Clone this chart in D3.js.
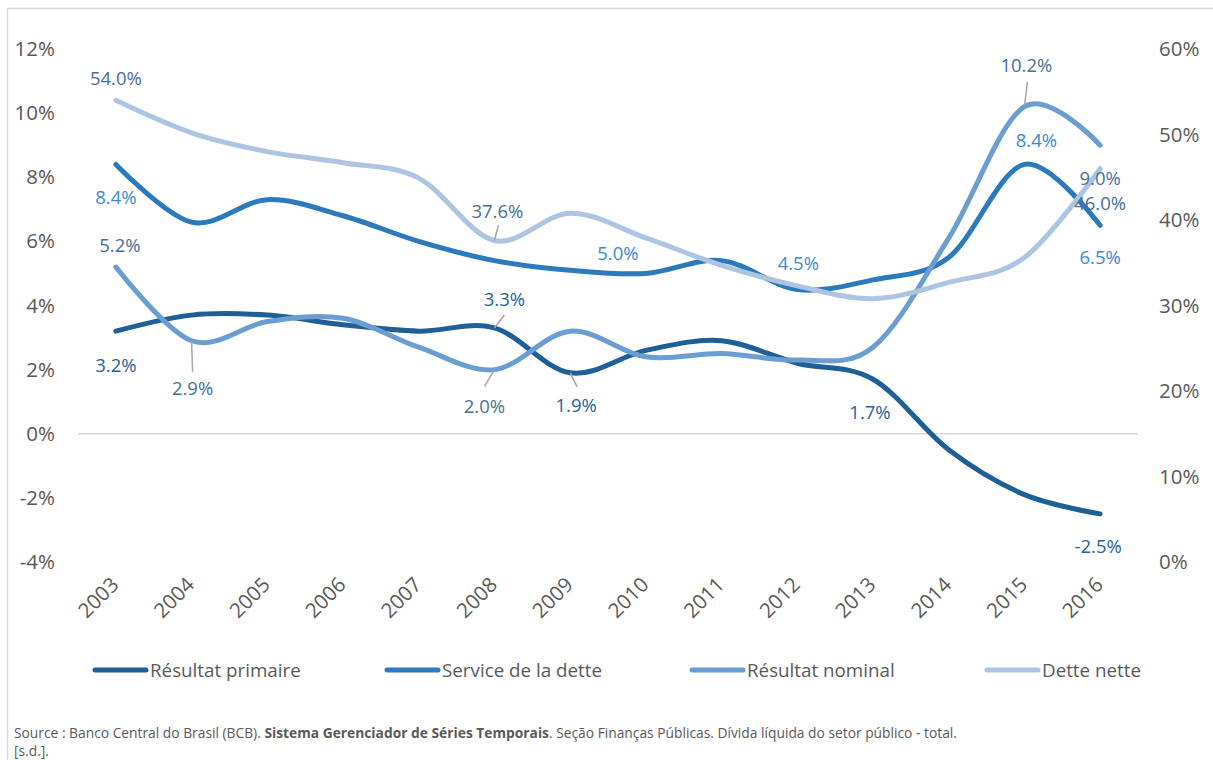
<!DOCTYPE html>
<html>
<head>
<meta charset="utf-8">
<script src="https://cdn.jsdelivr.net/npm/d3@7"></script>
<style>
  html, body { margin: 0; padding: 0; background: #fff; }
  svg { display: block; font-family: "Open Sans", "Noto Sans", sans-serif; }
</style>
</head>
<body>
<svg id="chart" width="1213" height="760"></svg>
<script>
// Years on the category axis
const years = ["2003","2004","2005","2006","2007","2008","2009","2010","2011","2012","2013","2014","2015","2016"];

// Series in % of GDP (left axis)
const resultatPrimaire = [3.2, 3.7, 3.7, 3.4, 3.2, 3.3, 1.9, 2.6, 2.9, 2.2, 1.7, -0.5, -1.9, -2.5];
const serviceDette     = [8.4, 6.6, 7.3, 6.8, 6.0, 5.4, 5.1, 5.0, 5.4, 4.5, 4.8, 5.5, 8.4, 6.5];
const resultatNominal  = [5.2, 2.9, 3.5, 3.6, 2.7, 2.0, 3.2, 2.4, 2.5, 2.3, 2.7, 6.1, 10.2, 9.0];
// Net debt in % of GDP (right axis)
const detteNette       = [54.0, 50.2, 48.0, 46.7, 44.9, 37.6, 40.8, 37.9, 34.7, 32.3, 30.8, 32.7, 35.6, 46.0];

// Axis ticks
const leftTicks  = [-4, -2, 0, 2, 4, 6, 8, 10, 12];
const rightTicks = [0, 10, 20, 30, 40, 50, 60];

const seriesNames = ["Résultat primaire", "Service de la dette", "Résultat nominal", "Dette nette"];

// ---- layout and styling ----
const svg = d3.select("#chart");
const plot = { left: 78, right: 1138, top: 49, bottom: 562 };
const axisFont = 20.5;

const x = d3.scaleBand().domain(years).range([plot.left, plot.right]);
const xc = d => x(d) + x.bandwidth() / 2;
const yL = d3.scaleLinear().domain([-4, 12]).range([plot.bottom, plot.top]);
const yR = d3.scaleLinear().domain([0, 60]).range([plot.bottom, plot.top]);

const series = [
  { name: seriesNames[0], values: resultatPrimaire, y: yL, color: "#1f5f98", label: "#24649c" },
  { name: seriesNames[1], values: serviceDette,     y: yL, color: "#2a7abd", label: "#3a8ad0" },
  { name: seriesNames[2], values: resultatNominal,  y: yL, color: "#6a9ed2", label: "#46709c" },
  { name: seriesNames[3], values: detteNette,       y: yR, color: "#adc4e3", label: "#4a6d96" }
];

// Chart frame (top and left edges)
svg.append("line").attr("x1", 7).attr("x2", 1213).attr("y1", 8.5).attr("y2", 8.5)
  .attr("stroke", "#d9d9d9").attr("stroke-width", 1.5);
svg.append("line").attr("x1", 7.5).attr("x2", 7.5).attr("y1", 8).attr("y2", 760)
  .attr("stroke", "#d9d9d9").attr("stroke-width", 1.5);

// Left axis
const leftAxis = d3.axisLeft(yL).tickValues(leftTicks).tickSize(0).tickPadding(0)
  .tickFormat(d => d + "%");
const gL = svg.append("g").attr("transform", "translate(55,0)").call(leftAxis);
gL.select(".domain").remove();
gL.selectAll("text").attr("font-size", axisFont).attr("fill", "#595959")
  .attr("font-family", "'Open Sans', sans-serif");

// Right axis
const rightAxis = d3.axisRight(yR).tickValues(rightTicks).tickSize(0).tickPadding(0)
  .tickFormat(d => d + "%");
const gR = svg.append("g").attr("transform", "translate(1159,0)").call(rightAxis);
gR.select(".domain").remove();
gR.selectAll("text").attr("font-size", axisFont).attr("fill", "#595959")
  .attr("font-family", "'Open Sans', sans-serif");

// Zero line
svg.append("line")
  .attr("x1", plot.left).attr("x2", plot.right)
  .attr("y1", yL(0)).attr("y2", yL(0))
  .attr("stroke", "#d9d9d9").attr("stroke-width", 1.5);

// Category axis labels, rotated
const xAxis = d3.axisBottom(x).tickSize(0).tickPadding(0);
const gX = svg.append("g").attr("transform", "translate(0,583)").call(xAxis);
gX.select(".domain").remove();
gX.selectAll("text")
  .attr("font-size", axisFont).attr("fill", "#595959")
  .attr("font-family", "'Open Sans', sans-serif")
  .attr("text-anchor", "end")
  .attr("dy", "0.35em")
  .attr("transform", "translate(-1,-2) rotate(-45)");

// Smoothed lines
const lineGen = s => d3.line()
  .x((d, i) => xc(years[i]))
  .y(d => s.y(d))
  .curve(d3.curveCatmullRom.alpha(0));

svg.append("g").selectAll("path")
  .data(series)
  .join("path")
  .attr("d", s => lineGen(s)(s.values))
  .attr("fill", "none")
  .attr("stroke", s => s.color)
  .attr("stroke-width", 5)
  .attr("stroke-linecap", "round")
  .attr("stroke-linejoin", "round");

// Data labels: series index, year index, label offset, optional leader line end
const labelLayout = [
  { s: 3, i: 0,  dx: 0,   dy: -22 },
  { s: 1, i: 0,  dx: 0,   dy: 33 },
  { s: 2, i: 0,  dx: 4,   dy: -22 },
  { s: 0, i: 0,  dx: 0,   dy: 34 },
  { s: 2, i: 1,  dx: 1,   dy: 48, lx: 1, ly: 31 },
  { s: 3, i: 5,  dx: 3,   dy: -29, lx: 4, ly: -15 },
  { s: 0, i: 5,  dx: 10,  dy: -28, lx: 10, ly: -13 },
  { s: 2, i: 5,  dx: -10, dy: 37, lx: -10, ly: 17 },
  { s: 0, i: 6,  dx: 6,   dy: 33, lx: 7, ly: 14 },
  { s: 1, i: 7,  dx: -28, dy: -20 },
  { s: 1, i: 9,  dx: 1,   dy: -26 },
  { s: 0, i: 10, dx: -3,  dy: 33 },
  { s: 2, i: 12, dx: 2,   dy: -41, lx: 3, ly: -25 },
  { s: 1, i: 12, dx: 12,  dy: -24 },
  { s: 2, i: 13, dx: 0,   dy: 33 },
  { s: 3, i: 13, dx: 0,   dy: 35 },
  { s: 1, i: 13, dx: 0,   dy: 32 },
  { s: 0, i: 13, dx: -2,  dy: 33 }
];

const lbl = svg.append("g");
labelLayout.forEach(l => {
  const s = series[l.s];
  const px = xc(years[l.i]);
  const py = s.y(s.values[l.i]);
  if (l.lx !== undefined) {
    lbl.append("line")
      .attr("x1", px).attr("y1", py)
      .attr("x2", px + l.lx).attr("y2", py + l.ly)
      .attr("stroke", "#a6a6a6").attr("stroke-width", 1.5);
  }
  lbl.append("text")
    .attr("x", px + l.dx).attr("y", py + l.dy)
    .attr("dy", "0.35em")
    .attr("text-anchor", "middle")
    .attr("font-size", 18.5)
    .attr("fill", s.label)
    .text(s.values[l.i].toFixed(1) + "%");
});

// Legend
const legendX = [93, 385, 690, 985];
const leg = svg.append("g").attr("transform", "translate(0,670)");
series.forEach((s, i) => {
  leg.append("line")
    .attr("x1", legendX[i] + 2).attr("x2", legendX[i] + 53)
    .attr("y1", 0).attr("y2", 0)
    .attr("stroke", s.color).attr("stroke-width", 5)
    .attr("stroke-linecap", "round");
  leg.append("text")
    .attr("x", legendX[i] + 57).attr("y", 0)
    .attr("dy", "0.35em")
    .attr("font-size", 18.8)
    .attr("fill", "#595959")
    .text(s.name);
});

// Source note
const src = svg.append("text").attr("x", 14).attr("y", 738)
  .attr("font-size", 13.8).attr("fill", "#595959");
src.append("tspan").text("Source : Banco Central do Brasil (BCB). ");
src.append("tspan").attr("font-weight", "bold").text("Sistema Gerenciador de Séries Temporais");
src.append("tspan").text(". Seção Finanças Públicas. Dívida líquida do setor público - total.");
svg.append("text").attr("x", 14).attr("y", 756)
  .attr("font-size", 13.8).attr("fill", "#595959").text("[s.d.].");
</script>
</body>
</html>
